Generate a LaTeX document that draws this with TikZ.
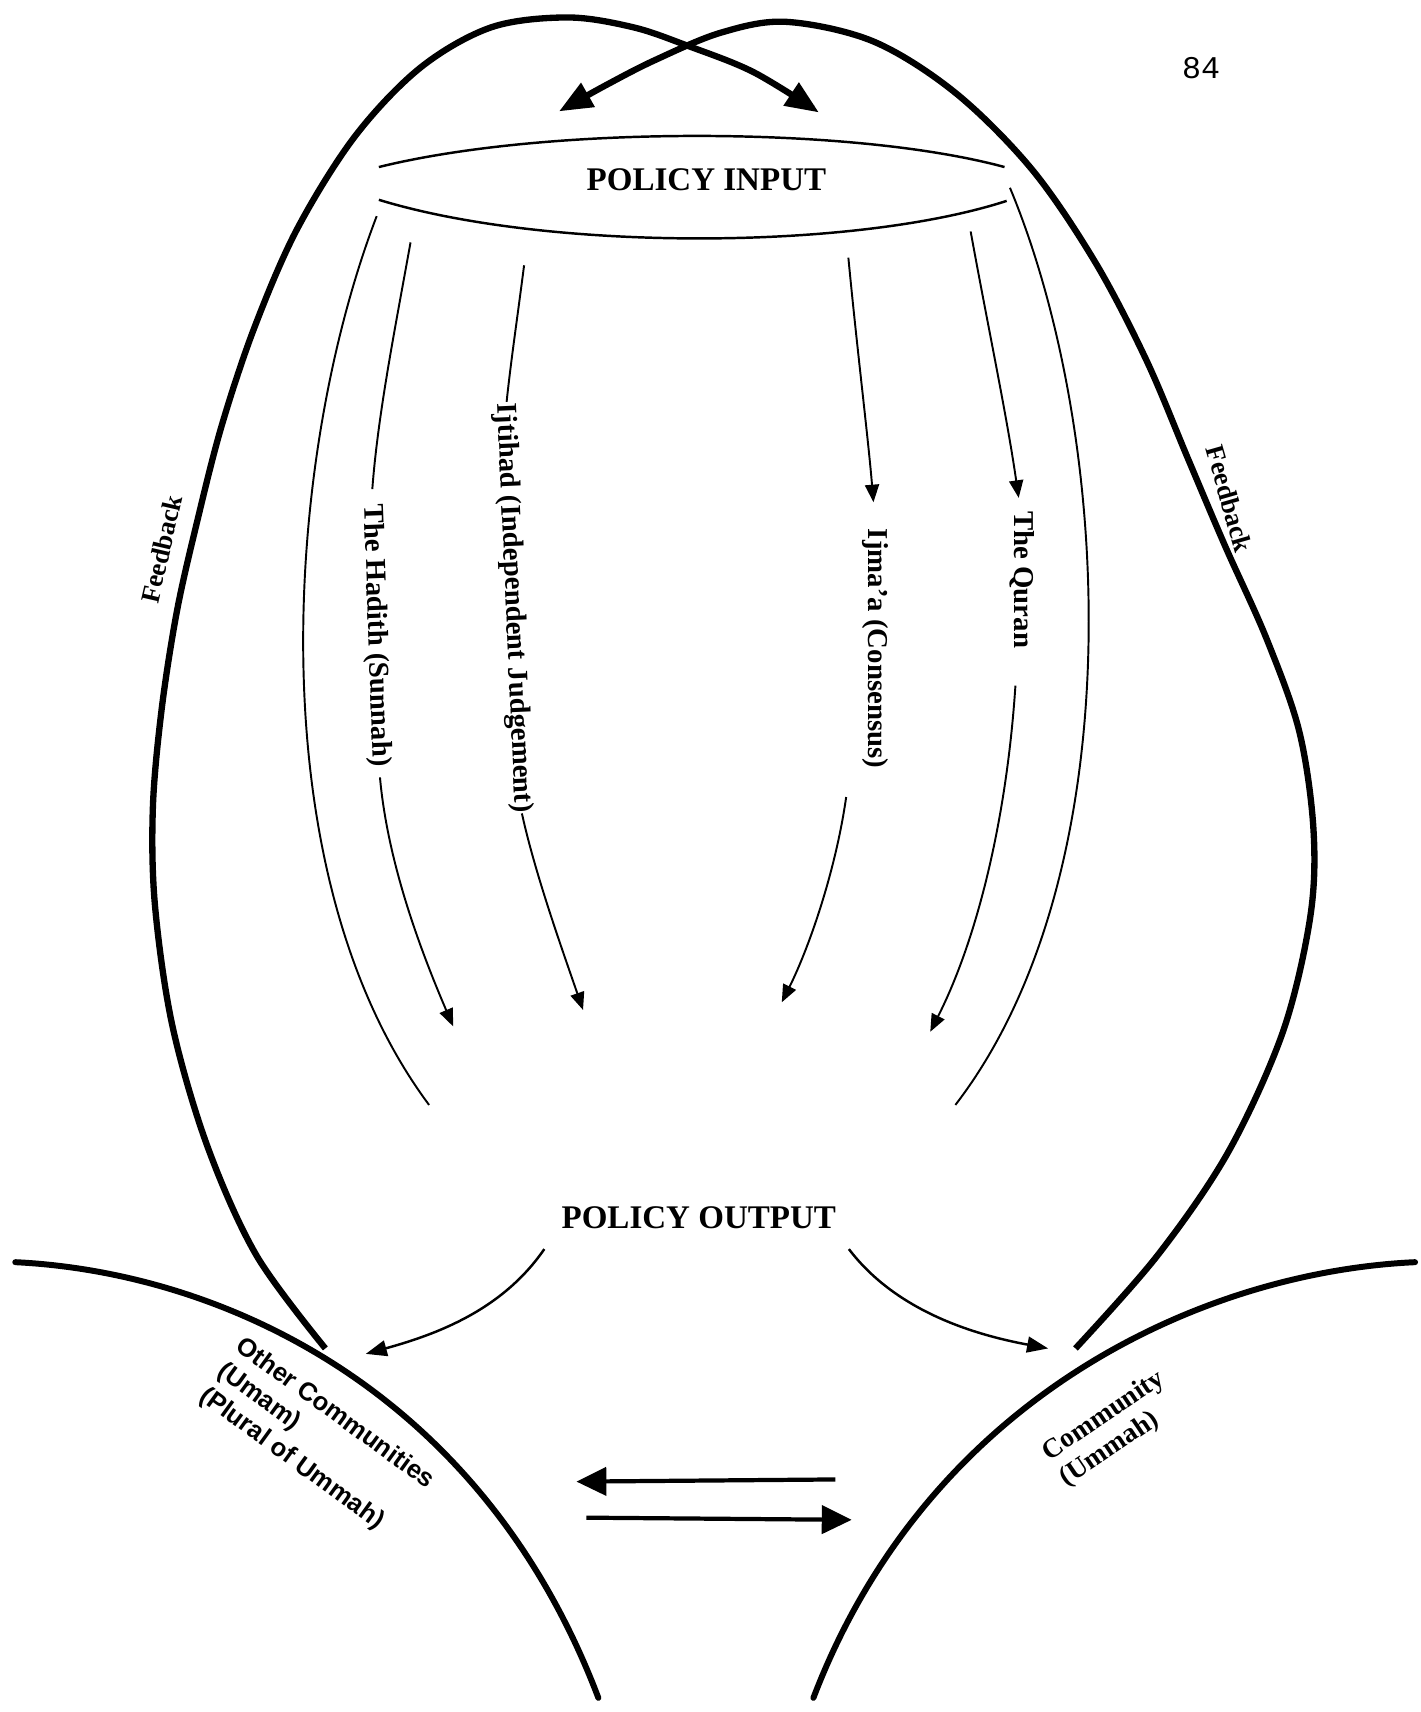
\documentclass[tikz,border=0pt]{standalone}
\usepackage{fontspec}
\setmainfont{Liberation Serif}
\newfontfamily\sansfnt{Liberation Sans}
\newfontfamily\monofnt{Liberation Mono}
\usetikzlibrary{arrows.meta}
\begin{document}
\begin{tikzpicture}[x=0.10922mm, y=-0.10922mm,
  lensline/.style={line width=0.7pt},
  thinline/.style={line width=0.55pt},
  flowarrow/.style={thinline, -{Triangle[length=5pt,width=4pt]}},
  outarrow/.style={line width=0.7pt, -{Triangle[length=6pt,width=4.5pt]}},
  fbline/.style={line width=1.8pt},
  fbarrow/.style={fbline, -{Triangle[length=9.5pt,width=7.5pt]}},
  groundline/.style={line width=1.7pt},
  swaparrow/.style={line width=1.2pt, -{Triangle[length=8.5pt,width=8pt]}},
  headtxt/.style={font=\fontsize{9.4}{11}\selectfont\bfseries, inner sep=1pt},
  srctxt/.style={font=\fontsize{8.2}{10}\selectfont\bfseries, inner sep=1pt},
  fbtxt/.style={font=\fontsize{7.6}{9}\selectfont\bfseries, inner sep=1pt},
  othertxt/.style={font=\sansfnt\fontsize{7.3}{8.8}\selectfont\bfseries, inner sep=1pt, align=left},
  commtxt/.style={font=\fontsize{7.8}{8.8}\selectfont\bfseries, inner sep=1pt, align=left},
  pagenum/.style={font=\monofnt\fontsize{9}{11}\selectfont, inner sep=1pt}]

\fill[white] (0,0) rectangle (1301,1568);
\path[use as bounding box] (0,0) rectangle (1301,1568);

% page number
\node[pagenum] (pg) at (1100,62) {84};

% headings
\node[headtxt] (pin) at (647,165) {POLICY INPUT};
\node[headtxt] (pout) at (640,1115) {POLICY OUTPUT};

% lens around the input
\coordinate (lensL1) at (347,153);
\coordinate (lensR1) at (920,153);
\coordinate (lensL2) at (347,183);
\coordinate (lensR2) at (922,184);
\draw[lensline] (lensL1) .. controls (500,115) and (780,115) .. (lensR1);
\draw[lensline] (lensL2) .. controls (500,230) and (780,230) .. (lensR2);

% source labels
\node[srctxt, rotate=-88] (hadith) at (344,582) {The Hadith (Sunnah)};
\node[srctxt, rotate=-87.5] (ijtihad) at (470,557) {Ijtihad (Independent Judgement)};
\node[srctxt, rotate=-90] (ijmaa) at (802,594) {Ijma'a (Consensus)};
\node[srctxt, rotate=-90] (quran) at (936,531) {The Quran};

% outer thin channels
\coordinate (olTop) at (345,198);
\coordinate (olBot) at (393,1012);
\coordinate (orTop) at (925,172);
\coordinate (orBot) at (875,1012);
\draw[thinline] (olTop) .. controls (260,420) and (235,800) .. (olBot);
\draw[thinline] (orTop) .. controls (1020,400) and (1038,800) .. (orBot);

% Hadith channel
\coordinate (h1) at (376,222);
\coordinate (h2) at (341,448);
\coordinate (h3) at (348,712);
\coordinate (h4) at (415,940);
\draw[thinline] (h1) .. controls (362,300) and (346,380) .. (h2);
\draw[flowarrow] (h3) .. controls (355,790) and (385,870) .. (h4);

% Ijtihad channel
\coordinate (j1) at (480,243);
\coordinate (j2) at (464,368);
\coordinate (j3) at (478,745);
\coordinate (j4) at (534,925);
\draw[thinline] (j1) .. controls (474,290) and (468,330) .. (j2);
\draw[flowarrow] (j3) .. controls (490,800) and (515,870) .. (j4);

% Ijma'a channel
\coordinate (m1) at (777,236);
\coordinate (m2) at (800,460);
\coordinate (m3) at (775,730);
\coordinate (m4) at (716,918);
\draw[flowarrow] (m1) .. controls (785,320) and (795,400) .. (m2);
\draw[flowarrow] (m3) .. controls (765,800) and (740,870) .. (m4);

% Quran channel
\coordinate (q1) at (889,212);
\coordinate (q2) at (933,456);
\coordinate (q3) at (930,628);
\coordinate (q4) at (852,945);
\draw[flowarrow] (q1) .. controls (905,300) and (922,380) .. (q2);
\draw[flowarrow] (q3) .. controls (922,750) and (895,860) .. (q4);

% ground curves of the two communities
\coordinate (gl1) at (14,1156);
\coordinate (gl2) at (548,1555);
\coordinate (gr1) at (1296,1156);
\coordinate (gr2) at (745,1555);
\draw[groundline, line cap=round] (gl1) .. controls (200,1165) and (440,1270) .. (gl2);
\draw[groundline, line cap=round] (gr1) .. controls (1100,1165) and (850,1280) .. (gr2);

% community labels
\node[othertxt, rotate=-36] (others) at (290,1318) {Other Communities\\(Umam)\\(Plural of Ummah)};
\node[commtxt, rotate=34] (ummah) at (1019,1309) {Community\\(Ummah)};

% output arrows
\coordinate (oL) at (335,1240);
\coordinate (oR) at (960,1235);
\draw[outarrow] (pout.south west) ++(-12,15) .. controls (460,1200) and (400,1222) .. (oL);
\draw[outarrow] (pout.south east) ++(8,15) .. controls (820,1200) and (890,1222) .. (oR);

% feedback loops, each from a community back over the top to the input
\draw[fbarrow] plot[smooth, tension=0.55] coordinates {
  (298,1235) (235,1150) (190,1050) (158,940) (142,830) (140,740)
  (148,650) (162,560) (180,480) (203,390) (233,300) (272,210)
  (325,125) (385,62) (450,25) (520,16) (580,25) (630,42) (690,66) (750,103)};
\draw[fbarrow] plot[smooth, tension=0.55] coordinates {
  (985,1235) (1060,1150) (1125,1055) (1175,945) (1200,840) (1203,760)
  (1190,670) (1160,585) (1122,500) (1088,420) (1050,330) (1003,240)
  (945,155) (875,85) (800,38) (720,20) (660,30) (600,55) (555,78) (512,102)};
\node[fbtxt, rotate=77] (fbl) at (148,503) {Feedback};
\node[fbtxt, rotate=-74] (fbr) at (1126,457) {Feedback};

% exchange between communities
\coordinate (xa1) at (765,1355);
\coordinate (xa2) at (528,1357);
\coordinate (xb1) at (537,1390);
\coordinate (xb2) at (780,1392);
\draw[swaparrow] (xa1) -- (xa2);
\draw[swaparrow] (xb1) -- (xb2);
\end{tikzpicture}
\end{document}
